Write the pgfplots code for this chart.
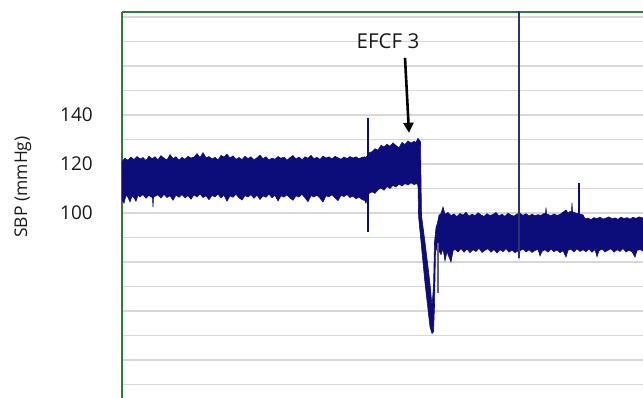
\documentclass[border=0pt]{standalone}
\usepackage{fontspec}
\setmainfont{Open Sans}
\usepackage{pgfplots}
\pgfplotsset{compat=1.18}
\usepgfplotslibrary{fillbetween}
\usetikzlibrary{arrows.meta}
\definecolor{navyb}{RGB}{12,12,122}
\definecolor{spikec}{RGB}{45,50,110}
\definecolor{lightnavy}{RGB}{95,95,150}
\definecolor{axgreen}{RGB}{46,125,55}
\definecolor{gridgray}{RGB}{215,215,215}
\begin{document}
\begin{tikzpicture}
\begin{axis}[
  scale only axis, width=521pt, height=386pt,
  xmin=122, xmax=643, ymin=24.5, ymax=182,
  axis x line*=top, axis y line*=left,
  axis line style={draw=axgreen, line width=1.7pt},
  xtick=\empty,
  ytick={100,120,140},
  minor ytick={30,40,...,180},
  ymajorgrids, yminorgrids,
  major grid style={draw=gridgray, line width=1.4pt},
  minor grid style={draw=gridgray, line width=1.4pt},
  major tick length=0pt, minor tick length=0pt,
  /pgf/number format/assume math mode=true,
  yticklabel style={font=\fontsize{19}{22}\selectfont, text=black!90, inner sep=2pt},
  yticklabel shift=27pt,
  clip mode=individual,
]
\coordinate (BL) at (rel axis cs:0,0);
\coordinate (TR) at (rel axis cs:1,1);
% upper envelope of the pressure trace
\addplot[name path=top, draw=navyb, line width=0.6pt] coordinates {
(122,121.0)(125,122.3)(128,121.5)(131,122.8)(134,121.8)(137,123.0)(140,122.0)(143,122.6)(146,121.4)(149,123.2)
(152,122.1)(155,122.9)(158,121.7)(161,123.4)(164,122.3)(167,121.6)(170,123.8)(173,122.2)(176,122.9)(179,121.5)
(182,122.7)(185,121.9)(188,123.1)(191,122.4)(194,122.8)(197,124.2)(200,122.6)(203,124.6)(206,122.5)(209,123.0)
(212,122.0)(215,122.7)(218,121.6)(221,123.5)(224,122.8)(227,124.0)(230,122.4)(233,123.3)(236,121.9)(239,122.6)
(242,121.8)(245,123.1)(248,122.2)(251,122.9)(254,121.7)(257,122.5)(260,123.6)(263,122.1)(266,122.9)(269,121.6)
(272,122.4)(275,121.9)(278,123.0)(281,122.3)(284,122.8)(287,121.5)(290,122.6)(293,123.4)(296,122.0)(299,122.8)
(302,121.7)(305,122.9)(308,122.3)(311,123.5)(314,122.1)(317,122.7)(320,121.8)(323,123.2)(326,122.4)(329,122.9)
(332,122.0)(335,123.1)(338,122.5)(341,121.9)(344,122.8)(347,122.2)(350,123.0)(353,122.4)(356,122.9)(359,122.1)
(362,122.7)(365,122.9)(366,122.6)(369,124.5)(372,125.0)(375,126.2)(378,125.6)(381,127.6)(384,126.9)(387,128.0)
(390,127.2)(393,128.6)(396,127.5)(399,126.6)(402,128.8)(405,127.9)(408,129.4)(411,128.5)(414,129.2)(416,128.8)
(418,130.5)(420.5,129.0)(421.5,99.0)(425,88.0)(428,78.0)(430,71.0)(432,62.0)(433.5,70.0)(434.5,88.0)(436,94.0)
(437.5,96.0)(439,99.0)(441,99.8)(443,102.4)(445,99.5)(448,100.2)(451,98.9)(454,99.6)(457,98.5)(460,99.8)
(463,99.1)(466,100.3)(469,98.7)(472,99.5)(475,98.9)(478,100.1)(481,99.2)(484,98.6)(487,99.7)(490,98.9)
(493,99.4)(496,100.2)(499,98.8)(502,99.5)(505,98.6)(508,99.9)(511,99.1)(514,98.7)(517,99.6)(520,99.9)
(523,99.0)(526,99.7)(529,98.8)(532,99.5)(535,98.9)(538,99.3)(541,99.0)(544,99.8)(545.5,99.6)(546,102.2)
(546.5,99.6)(548,99.4)(551,98.8)(554,99.6)(557,99.0)(560,99.4)(563,100.3)(566,101.2)(568,99.9)(570,100.6)
(571.5,100.4)(572,104.1)(572.5,100.4)(574,100.2)(577,99.8)(580,99.5)(583,99.2)(585,97.6)(588,97.9)(591,97.3)
(594,98.1)(597,97.6)(600,98.3)(603,97.5)(606,97.9)(609,98.4)(612,97.6)(615,98.0)(618,97.4)(621,98.3)
(624,97.7)(627,98.1)(630,97.5)(633,98.2)(636,97.8)(639,98.4)(643,97.9)
};
% lower envelope of the pressure trace
\addplot[name path=bot, draw=navyb, line width=0.6pt] coordinates {
(122,105.5)(124,104.0)(126,107.2)(128,106.4)(130,104.5)(132,107.0)(134,106.2)(136,104.8)(138,107.3)(140,106.6)
(143,107.5)(146,106.0)(149,107.2)(151,106.5)(152.5,106.4)(153,102.4)(153.5,106.4)(155,106.8)(158,107.4)(161,106.1)
(164,107.6)(167,106.3)(170,107.0)(173,105.2)(176,107.3)(179,106.4)(182,107.5)(185,106.2)(188,107.1)(191,105.6)
(194,107.4)(197,106.5)(200,107.8)(203,106.3)(206,107.0)(209,105.4)(212,107.2)(215,106.6)(218,107.7)(221,106.1)
(224,107.3)(227,104.8)(230,107.0)(233,106.4)(236,107.6)(239,106.2)(242,105.3)(245,107.1)(248,106.5)(251,107.5)
(254,106.0)(257,107.3)(260,105.5)(263,107.0)(266,106.4)(269,107.7)(272,106.2)(275,107.2)(278,104.9)(281,107.0)
(284,106.5)(287,107.4)(290,106.1)(293,105.2)(296,107.0)(299,106.5)(302,107.6)(305,106.2)(308,104.6)(311,107.1)
(314,106.5)(317,107.3)(320,106.0)(323,104.5)(326,107.0)(329,106.6)(332,107.4)(335,106.2)(338,105.0)(341,107.2)
(344,106.7)(347,107.5)(350,106.3)(353,106.9)(356,105.8)(359,106.5)(362,105.5)(365,105.0)(366,104.0)(369,108.0)
(372,108.6)(375,108.0)(378,109.5)(381,110.2)(384,109.3)(387,110.8)(390,110.0)(393,111.3)(396,110.6)(399,111.8)
(402,111.0)(405,112.0)(408,111.4)(411,112.3)(414,111.6)(417,112.0)(418,111.0)(418.6,98.4)(425,71.4)(430,53.5)
(432,50.8)(433.5,51.5)(434.5,62.0)(435.5,84.0)(437,86.0)(439,84.5)(441,83.0)(443,85.5)(445,80.5)(447,84.2)
(449,82.0)(451,80.0)(453,84.5)(455,85.2)(458,84.1)(461,85.5)(464,84.0)(467,85.3)(470,83.8)(473,85.0)
(476,84.3)(479,85.6)(482,83.9)(485,84.8)(488,85.4)(491,84.0)(494,85.1)(497,83.7)(500,85.0)(503,84.2)
(506,85.5)(509,84.0)(512,84.9)(515,83.8)(518,84.6)(519,81.6)(520,84.6)(523,85.3)(526,84.1)(529,85.0)
(532,83.9)(535,84.7)(538,85.2)(540,82.5)(542,84.3)(545,85.0)(548,84.0)(551,85.3)(554,84.2)(557,84.9)
(560,83.8)(563,84.6)(566,82.0)(568,84.8)(571,85.2)(574,84.1)(577,85.4)(580,84.3)(583,85.0)(586,84.2)
(589,85.3)(592,84.0)(595,85.1)(597,82.2)(599,84.6)(602,85.3)(605,84.1)(608,84.8)(611,85.4)(614,84.0)
(617,85.0)(620,84.3)(623,85.5)(626,84.1)(629,84.8)(632,84.2)(635,82.0)(637,84.7)(640,85.1)(643,84.4)
};
\addplot[navyb] fill between[of=top and bot];
% isolated artefact spikes
\addplot[navyb, line width=2.4pt] coordinates {(368,92.2) (368,138.8)};
\addplot[lightnavy, line width=1.2pt] coordinates {(438,87.8) (438,67.3)};
\addplot[spikec, line width=1.3pt] coordinates {(519,81.6) (519,190)};
\addplot[navyb, line width=1.8pt] coordinates {(579,97.0) (579,112.2)};
% annotations
\node[rotate=90, font=\fontsize{17.5}{20}\selectfont, text=black!90] at (axis cs:23,110.6) {SBP (mmHg)};
\node[font=\fontsize{20.5}{24}\selectfont, text=black!90] at (axis cs:388,170.2) {EFCF 3};
\draw[line width=2.6pt, -{Triangle[length=10pt,width=10pt]}] (axis cs:405,163.3) -- (axis cs:409,132.7);
\end{axis}
\pgfresetboundingbox
\path[use as bounding box] ([xshift=-122pt]BL) rectangle ([yshift=12pt]TR);
\end{tikzpicture}
\end{document}
